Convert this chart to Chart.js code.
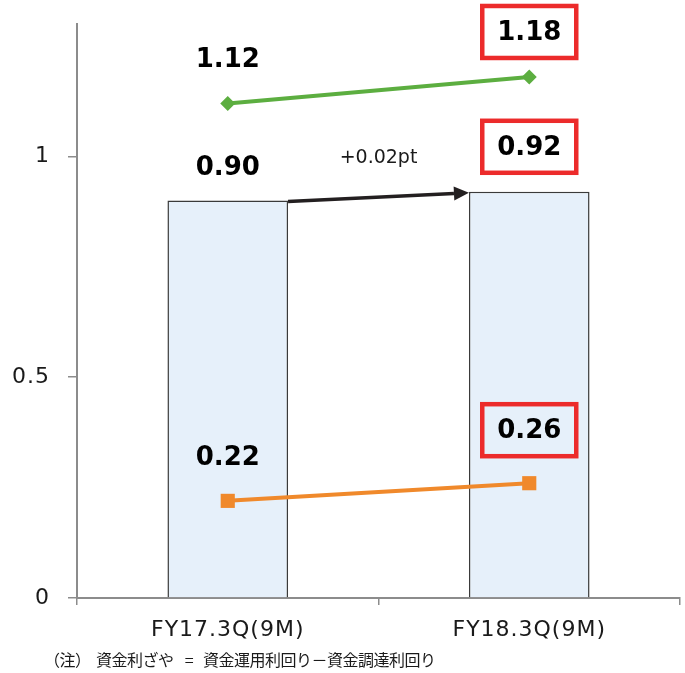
<!DOCTYPE html>
<html>
<head>
<meta charset="utf-8">
<script src="https://cdn.jsdelivr.net/npm/chart.js@4"></script>
<style>
  html, body { margin: 0; padding: 0; background: #fff; }
  canvas { display: block; }
</style>
</head>
<body>
<canvas id="c" width="685" height="673"></canvas>
<script>
// Periods on the x axis
const categories = ['FY17.3Q(9M)', 'FY18.3Q(9M)'];
// 資金利ざや (bars)
const marginValues = [0.90, 0.92];
// 資金運用利回り (green line)
const yieldValues = [1.12, 1.18];
// 資金調達利回り (orange line)
const costValues = [0.22, 0.26];
// Value-axis tick labels
const yTickValues = [0, 0.5, 1];
// Change annotation between the two bars
const changeLabel = '+0.02pt';
// Note under the chart, split into its printed pieces
const notePieces = ['（注）', '資金利ざや', '=', '資金運用利回り－資金調達利回り'];

const AXIS_GRAY = '#8c8c8c';
const TEXT = '#1a1a1a';
const RED = '#ec2b2b';

// Slightly wider tracking for the axis labels
const axisTracking = {
  id: 'axisTracking',
  beforeDraw(chart) { chart.ctx.letterSpacing = '1px'; },
  beforeDatasetsDraw(chart) { chart.ctx.letterSpacing = '0px'; }
};

// Value labels above each mark; the latest period's label sits in a red frame
const valueLabels = {
  id: 'valueLabels',
  afterDatasetsDraw(chart, args, opts) {
    const ctx = chart.ctx;
    ctx.save();
    ctx.letterSpacing = '0px';
    ctx.font = 'bold 26px "DejaVu Sans"';
    ctx.textAlign = 'center';
    ctx.textBaseline = 'middle';
    chart.data.datasets.forEach((ds, di) => {
      const meta = chart.getDatasetMeta(di);
      const offs = opts.offsets[di];
      meta.data.forEach((el, i) => {
        const x = el.x;
        const y = el.y - offs[i];
        const text = ds.data[i].toFixed(2);
        if (i === ds.data.length - 1) {
          ctx.strokeStyle = RED;
          ctx.lineWidth = 4.5;
          ctx.strokeRect(x - 47, y - 26, 94, 52);
        }
        ctx.fillStyle = '#000';
        ctx.fillText(text, x, y + 1);
      });
    });
    ctx.restore();
  }
};

// Arrow from the top of the first bar to the top of the second, with its caption
const changeArrow = {
  id: 'changeArrow',
  afterDatasetsDraw(chart) {
    const bars = chart.getDatasetMeta(2).data;
    if (bars.length < 2) return;
    const a = bars[0], b = bars[1];
    const x0 = a.x + a.width / 2, y0 = a.y + 1;
    const x1 = b.x - b.width / 2, y1 = b.y + 1;
    const ctx = chart.ctx;
    ctx.save();
    ctx.letterSpacing = '0px';
    ctx.strokeStyle = '#231f20';
    ctx.fillStyle = '#231f20';
    ctx.lineWidth = 3.5;
    const ang = Math.atan2(y1 - y0, x1 - x0);
    const headLen = 15, headW = 7;
    const bx = x1 - headLen * Math.cos(ang), by = y1 - headLen * Math.sin(ang);
    ctx.beginPath();
    ctx.moveTo(x0, y0);
    ctx.lineTo(bx, by);
    ctx.stroke();
    ctx.beginPath();
    ctx.moveTo(x1, y1);
    ctx.lineTo(bx + headW * Math.sin(ang), by - headW * Math.cos(ang));
    ctx.lineTo(bx - headW * Math.sin(ang), by + headW * Math.cos(ang));
    ctx.closePath();
    ctx.fill();
    ctx.font = '19px "DejaVu Sans"';
    ctx.textAlign = 'center';
    ctx.textBaseline = 'middle';
    ctx.fillStyle = TEXT;
    ctx.fillText(changeLabel, (x0 + x1) / 2, Math.min(y0, y1) - 35);
    ctx.restore();
  }
};

// Note under the chart
const noteText = {
  id: 'noteText',
  afterDraw(chart) {
    const ctx = chart.ctx;
    ctx.save();
    ctx.font = '16px "Noto Sans CJK JP"';
    ctx.letterSpacing = '-0.5px';
    ctx.textBaseline = 'middle';
    ctx.fillStyle = TEXT;
    const y = 660;
    ctx.textAlign = 'left';
    ctx.fillText(notePieces[0], 44, y);
    ctx.fillText(notePieces[1], 96, y);
    ctx.textAlign = 'center';
    ctx.fillText(notePieces[2], 189, y);
    ctx.textAlign = 'left';
    ctx.fillText(notePieces[3], 203, y);
    ctx.restore();
  }
};

new Chart(document.getElementById('c'), {
  data: {
    labels: categories,
    datasets: [
      {
        type: 'line',
        label: '資金運用利回り',
        data: yieldValues,
        borderColor: '#5cae40',
        backgroundColor: '#5cae40',
        borderWidth: 4,
        pointStyle: 'rectRot',
        pointRadius: 7.5,
        pointBorderWidth: 0,
        pointBackgroundColor: '#5cae40',
        order: 1
      },
      {
        type: 'line',
        label: '資金調達利回り',
        data: costValues,
        borderColor: '#f0892b',
        backgroundColor: '#f0892b',
        borderWidth: 4,
        pointStyle: 'rect',
        pointRadius: 10,
        pointBorderWidth: 0,
        pointBackgroundColor: '#f0892b',
        order: 1
      },
      {
        type: 'bar',
        label: '資金利ざや',
        data: marginValues,
        backgroundColor: '#e6f0fa',
        borderColor: '#3a3a3a',
        borderWidth: 1.5,
        borderSkipped: 'bottom',
        barPercentage: 0.4,
        categoryPercentage: 1,
        order: 3
      }
    ]
  },
  options: {
    responsive: false,
    animation: false,
    devicePixelRatio: 1,
    layout: { autoPadding: false, padding: { top: 24, right: 5, left: 0, bottom: 0 } },
    plugins: {
      legend: { display: false },
      tooltip: { enabled: false },
      valueLabels: { offsets: [[44, 45], [44, 53], [33, 45]] }
    },
    scales: {
      x: {
        offset: true,
        grid: { offset: true, drawOnChartArea: false, tickLength: 7, color: AXIS_GRAY, lineWidth: 1.5 },
        border: { color: AXIS_GRAY, width: 2 },
        ticks: { font: { family: 'DejaVu Sans', size: 22 }, color: TEXT, padding: 12 },
        afterFit(s) { s.height = 75; s.paddingLeft = 0; s.paddingRight = 0; }
      },
      y: {
        min: 0,
        max: 1.3,
        afterBuildTicks(s) { s.ticks = yTickValues.map(v => ({ value: v })); },
        grid: { drawOnChartArea: false, tickLength: 9, color: AXIS_GRAY, lineWidth: 1.5 },
        border: { color: AXIS_GRAY, width: 2 },
        ticks: { font: { family: 'DejaVu Sans', size: 22 }, color: TEXT, padding: 18, callback: v => String(v) },
        afterFit(s) { s.width = 77; s.paddingTop = 0; s.paddingBottom = 0; }
      }
    }
  },
  plugins: [axisTracking, valueLabels, changeArrow, noteText]
});
</script>
</body>
</html>
